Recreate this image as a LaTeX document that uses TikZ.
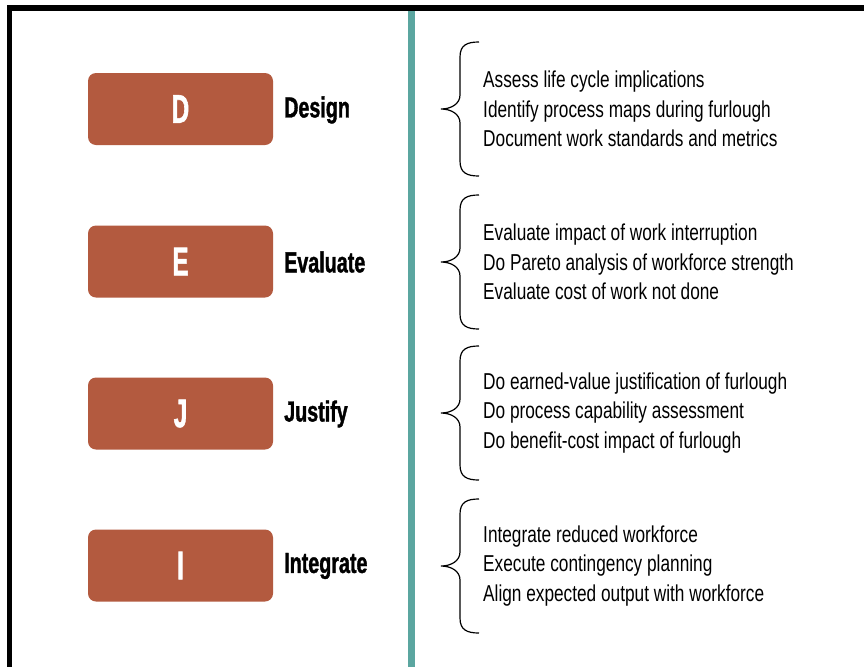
\documentclass[tikz,border=0pt]{standalone}
\usepackage{fontspec}
\setmainfont{Liberation Sans}[FakeStretch=0.75]
\newfontfamily\labelfont{Liberation Sans}[FakeStretch=0.68, FakeBold=1.2]
\newfontfamily\letterfont{Liberation Sans}[FakeStretch=0.6, FakeBold=1.5]
\definecolor{boxred}{RGB}{179,90,63}
\definecolor{teal2}{RGB}{91,166,160}
\tikzset{
  letterbox/.style={fill=boxred, draw=none, rounded corners=8pt, minimum width=185pt, minimum height=72pt, inner sep=0pt, text=white, font=\letterfont\fontsize{40}{40}\selectfont\bfseries},
  steplabel/.style={anchor=west, inner sep=0pt, font=\labelfont\fontsize{29}{29}\selectfont\bfseries},
  itemtext/.style={anchor=west, inner sep=0pt, align=left, font=\fontsize{23}{29.5}\selectfont},
  bracepath/.style={draw=black, line width=1.2pt},
}
\newcommand{\mybrace}[1]{%
  \draw[bracepath] ($(#1)+(38,-67)$) .. controls ($(#1)+(26,-67)$) and ($(#1)+(19,-64)$) .. ($(#1)+(19,-52)$)
    -- ($(#1)+(19,-14)$) .. controls ($(#1)+(19,-5)$) and ($(#1)+(10,0)$) .. (#1)
    .. controls ($(#1)+(10,0)$) and ($(#1)+(19,5)$) .. ($(#1)+(19,14)$)
    -- ($(#1)+(19,52)$) .. controls ($(#1)+(19,64)$) and ($(#1)+(26,67)$) .. ($(#1)+(38,67)$);}
\usetikzlibrary{calc}
\begin{document}
\begin{tikzpicture}[x=1pt,y=-1pt]
\useasboundingbox (0,0) rectangle (864,667);
\fill[white] (0,0) rectangle (864,667);
% frame
\fill[black] (7,5) rectangle (864,11);
\fill[black] (7,5) rectangle (12,667);
\fill[teal2] (408,11) rectangle (415,667);
% boxes
\node[letterbox] (bd) at (180.5,109) {D};
\node[letterbox] (be) at (180.5,261.5) {E};
\node[letterbox] (bj) at (180.5,413.5) {J};
\node[letterbox] (bi) at (180.5,565.5) {I};
% labels
\node[steplabel] (ld) at (284,110) {Design};
\node[steplabel] (le) at (284,262) {Evaluate};
\node[steplabel] (lj) at (284,414) {Justify};
\node[steplabel] (li) at (284,566) {Integrate};
% brace tips
\coordinate (td) at (441,109);
\coordinate (te) at (441,262);
\coordinate (tj) at (441,413);
\coordinate (ti) at (441,566);
\mybrace{td}
\mybrace{te}
\mybrace{tj}
\mybrace{ti}
% texts
\node[itemtext] (xd) at (483,109) {Assess life cycle implications\\Identify process maps during furlough\\Document work standards and metrics};
\node[itemtext] (xe) at (483,262) {Evaluate impact of work interruption\\Do Pareto analysis of workforce strength\\Evaluate cost of work not done};
\node[itemtext] (xj) at (483,413) {Do earned-value justification of furlough\\Do process capability assessment\\Do benefit-cost impact of furlough};
\node[itemtext] (xi) at (483,566) {Integrate reduced workforce\\Execute contingency planning\\Align expected output with workforce};
\end{tikzpicture}
\end{document}
